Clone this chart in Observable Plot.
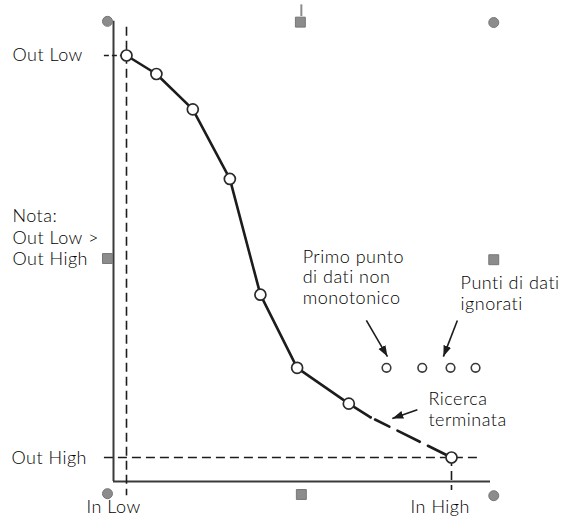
<!DOCTYPE html>
<html><head><meta charset="utf-8">
<script src="https://cdn.jsdelivr.net/npm/d3@7"></script>
<script src="https://cdn.jsdelivr.net/npm/@observablehq/plot@0.6"></script>
<style>body{margin:0;background:#fff;} svg text{letter-spacing:0.5px;}</style>
</head><body><div id="chart"></div>
<script>
// Input scale: In Low = 0, In High = 100 ; Output scale: Out High = 0, Out Low = 100
const curveIn  = [0, 9.2, 20.4, 31.8, 41.2, 52.5, 68.4];
const curveOut = [100, 95.4, 86.6, 69.3, 40.5, 22.3, 13.4];
const searchEndIn = 75.1, searchEndOut = 10.0;
const lastIn = 100, lastOut = 0;
const ignoredIn  = [80, 91.0, 99.7, 107.4];
const ignoredOut = [22.3, 22.3, 22.3, 22.3];
const inTickLabels  = ["In Low", "In High"];
const outTickLabels = ["Out Low", "Out High"];
const noteText = "Nota:\nOut Low >\nOut High";
const annotationTexts = ["Primo punto\ndi dati non\nmonotonico", "Punti di dati\nignorati", "Ricerca\nterminata"];

const ink = "#1c1c1c";
const textInk = "#000";
const font = "Lato, 'Open Sans', sans-serif";

const curve = curveIn.map((x, i) => ({x, y: curveOut[i]}));
const solidPath = [...curve, {x: searchEndIn, y: searchEndOut}];
const dashedPath = [{x: searchEndIn, y: searchEndOut}, {x: lastIn, y: lastOut}];
const dots = [...curve, {x: lastIn, y: lastOut}];
const ignored = ignoredIn.map((x, i) => ({x, y: ignoredOut[i]}));

const arrows = [
  {x1: 73.8, y1: 34.1, x2: 80.3, y2: 25.1},
  {x1: 101.8, y1: 34.1, x2: 97.5, y2: 25.1},
  {x1: 89.5, y1: 11.9, x2: 81.8, y2: 9.7}
];

const handleSquares = [{x: 53.5, y: 108.3}, {x: -5.85, y: 49.5}, {x: 113, y: 49.2}, {x: 53.8, y: -9.2}];
const handleCircles = [{x: -5.85, y: 108.5}, {x: 113, y: 108.2}, {x: -5.85, y: -9.0}, {x: 113, y: -9.5}];

const arrowHead = (color) => {
  const m = d3.create("svg:marker")
    .attr("viewBox", "-11 -5 12 10")
    .attr("markerWidth", 12).attr("markerHeight", 10)
    .attr("markerUnits", "userSpaceOnUse")
    .attr("orient", "auto");
  m.append("path").attr("d", "M-11,-4L0,0L-11,4Z").attr("fill", ink).attr("stroke", "none");
  return m.node();
};

const textOpts = {text: d => d, textAnchor: "start", fontSize: 18, fontWeight: 300, fill: textInk};

const chart = Plot.plot({
  width: 572, height: 517,
  marginLeft: 126, marginRight: 121, marginTop: 55, marginBottom: 60,
  x: {domain: [0, 100], axis: null},
  y: {domain: [0, 100], axis: null},
  style: {fontFamily: font, background: "#fff", overflow: "visible"},
  marks: [
    // top rotation stem
    Plot.ruleX([53.8], {y1: 109.7, y2: 112.6, stroke: "#8c8c8c", strokeWidth: 2}),
    // axes
    Plot.ruleX([-4], {y1: -6, y2: 108.5, stroke: "#3a3a3a", strokeWidth: 2}),
    Plot.ruleY([-6], {x1: -4, x2: 112, stroke: "#3a3a3a", strokeWidth: 2}),
    // guides
    Plot.ruleX([0], {y1: 107, y2: -9.5, stroke: ink, strokeWidth: 1.6, strokeDasharray: "9,5"}),
    Plot.ruleY([0], {x1: -6.8, x2: 109.5, stroke: ink, strokeWidth: 1.6, strokeDasharray: "9,5"}),
    Plot.ruleY([100], {x1: -6.8, x2: 0, stroke: ink, strokeWidth: 1.6, strokeDasharray: "5,3"}),
    Plot.ruleX([100], {y1: 0, y2: -8.2, stroke: ink, strokeWidth: 1.6, strokeDasharray: "9,5"}),
    // curve
    Plot.line(dashedPath, {x: "x", y: "y", stroke: ink, strokeWidth: 2.6, strokeDasharray: "0,5,16,9,25,9,40"}),
    Plot.line(solidPath, {x: "x", y: "y", stroke: ink, strokeWidth: 2.6}),
    // arrows
    Plot.link(arrows, {x1: "x1", y1: "y1", x2: "x2", y2: "y2", stroke: ink, strokeWidth: 1.6, markerEnd: arrowHead}),
    // points
    Plot.dot(dots, {x: "x", y: "y", r: 5.5, fill: "#fff", stroke: "#2a2a2a", strokeWidth: 1.7}),
    Plot.dot(ignored, {x: "x", y: "y", r: 4.3, fill: "#fff", stroke: "#3a3a3a", strokeWidth: 1.6}),
    // handles
    Plot.dot(handleSquares, {x: "x", y: "y", symbol: "square", r: 5.6, fill: "#8c8c8c", stroke: "#777", strokeWidth: 1}),
    Plot.dot(handleCircles, {x: "x", y: "y", r: 5, fill: "#8c8c8c", stroke: "#777", strokeWidth: 1}),
    // texts
    Plot.text([outTickLabels[0]], {...textOpts, x: -35.1, y: 100}),
    Plot.text([outTickLabels[1]], {...textOpts, x: -35.4, y: -0.3}),
    Plot.text([noteText], {...textOpts, x: -35.1, y: 54.9, lineHeight: 1.19}),
    Plot.text([inTickLabels[0]], {...textOpts, x: -12.3, y: -12.4}),
    Plot.text([inTickLabels[1]], {...textOpts, x: 87.4, y: -12.4}),
    Plot.text([annotationTexts[0]], {...textOpts, x: 54.2, y: 45.0, lineHeight: 1.14}),
    Plot.text([annotationTexts[1]], {...textOpts, x: 102.8, y: 40.9, lineHeight: 1.14}),
    Plot.text([annotationTexts[2]], {...textOpts, x: 92.9, y: 12.1, lineHeight: 1.14})
  ]
});
document.getElementById("chart").appendChild(chart);
</script></body></html>
